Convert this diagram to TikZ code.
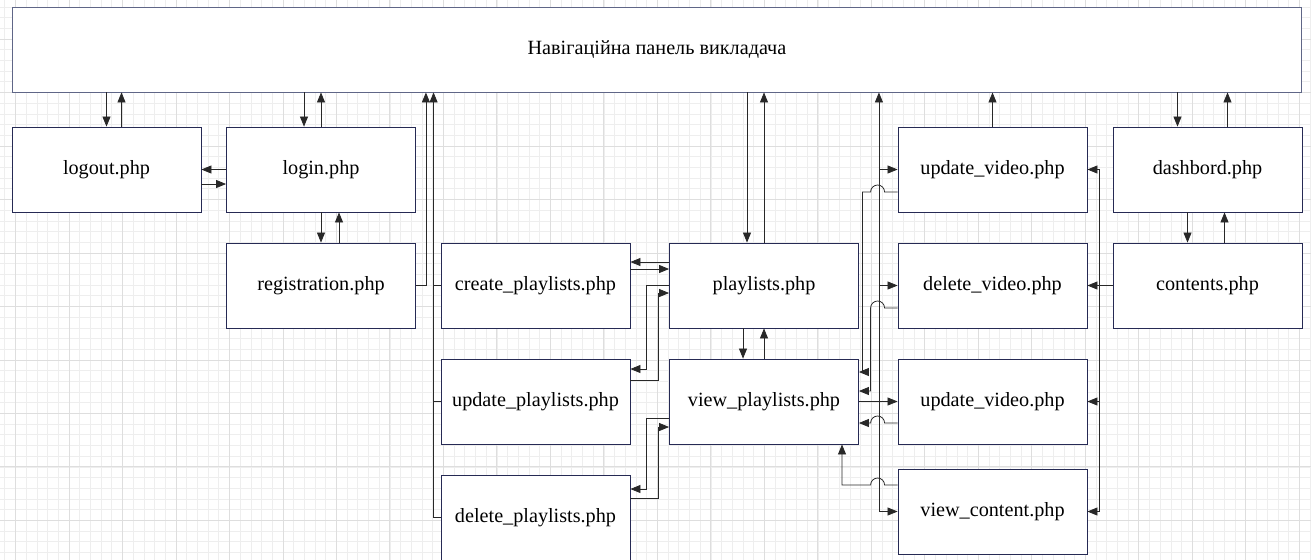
\documentclass[tikz,border=0pt]{standalone}
\usepackage{fontspec}
\setmainfont{Liberation Serif}
\usetikzlibrary{
    arrows.meta,
    positioning,
    calc
}
\definecolor{boxcol}{RGB}{38,42,84}
\definecolor{panelcol}{RGB}{95,102,135}
\definecolor{wirecol}{RGB}{40,40,40}
\definecolor{minorcol}{RGB}{238,238,238}
\definecolor{majorcol}{RGB}{222,222,222}
\tikzset{
    % --- Page box (one php script) ---
    page/.style = {
        rectangle, draw=boxcol, line width=0.5pt, fill=white,
        minimum width=3.78cm, minimum height=1.7cm, inner sep=0pt,
        font=\fontsize{11.5}{14}\selectfont
    },
    % --- Navigation panel across the top ---
    panel box/.style = {
        page, draw=panelcol, minimum width=25.8cm
    },
    % --- Connector with arrow head ---
    flow/.style = {
        -{Triangle[length=0.2cm, width=0.16cm]}, draw=wirecol, line width=0.45pt
    },
    % --- Connector without arrow head (shared trunk) ---
    trunk line/.style = {
        draw=wirecol, line width=0.45pt
    },
    % --- Background grid ---
    grid minor/.style = {
        draw=minorcol, line width=0.4pt
    },
    grid major/.style = {
        draw=majorcol, line width=0.5pt
    }
}

\begin{document}
\begin{tikzpicture}[x=0.02cm, y=-0.02cm]

% ---------------------------------------------------------
% Canvas and grid
% ---------------------------------------------------------
\useasboundingbox (0,0) rectangle (1311,559);
\fill[white] (0,0) rectangle (1311,559);
\begin{scope}
    \clip (0,0) rectangle (1311,559);
    \begin{scope}[shift={(15.5,39)}]
        \draw[grid minor] (-60,-60) grid[step=0.214cm] (1320,580);
        \draw[grid major] (-60,-60) grid[step=1.07cm] (1320,580);
    \end{scope}
\end{scope}

% ---------------------------------------------------------
% Pages
% ---------------------------------------------------------
\node[panel box] (panel) at (657,49.5) {Навігаційна панель викладача};

\node[page] (logout) at (106.5,169.5) {logout.php};
\node[page] (login) at (321,169.5) {login.php};
\node[page] (registration) at (321,285.5) {registration.php};

\node[page] (createpl) at (535.5,285.5) {create\_playlists.php};
\node[page] (updatepl) at (535.5,401.5) {update\_playlists.php};
\node[page] (deletepl) at (535.5,517.5) {delete\_playlists.php};

\node[page] (playlists) at (764,285.5) {playlists.php};
\node[page] (viewpl) at (764,401.5) {view\_playlists.php};

\node[page] (updatevid) at (992.5,169.5) {update\_video.php};
\node[page] (deletevid) at (992.5,285.5) {delete\_video.php};
\node[page] (updatevidb) at (992.5,401.5) {update\_video.php};
\node[page] (viewcontent) at (992.5,511.5) {view\_content.php};

\node[page] (dashbord) at (1207.5,169.5) {dashbord.php};
\node[page] (contents) at (1207.5,285.5) {contents.php};

% ---------------------------------------------------------
% Login group
% ---------------------------------------------------------
\coordinate (logoutUp) at ($(logout.north)+(15,0)$);
\draw[flow] (logout.north |- panel.south) -- (logout.north);
\draw[flow] (logoutUp) -- (logoutUp |- panel.south);

\coordinate (loginDn) at ($(login.north)+(-17,0)$);
\draw[flow] (loginDn |- panel.south) -- (loginDn);
\draw[flow] (login.north) -- (login.north |- panel.south);

\draw[flow] (login.west) -- (logout.east);
\draw[flow] ($(logout.east)+(0,14.5)$) -- ($(login.west)+(0,14.5)$);

\draw[flow] (login.south) -- (registration.north);
\draw[flow] ($(registration.north)+(18,0)$) -- ($(login.south)+(18,0)$);

\coordinate (regUp) at ($(registration.east)+(10,0)$);
\draw[flow] (registration.east) -- (regUp) -- (regUp |- panel.south);

% ---------------------------------------------------------
% Playlists group
% ---------------------------------------------------------
\coordinate (plUp) at ($(createpl.west)+(-7,0)$);
\draw[trunk line] (deletepl.west) -| (plUp);
\draw[trunk line] (updatepl.west) -- (updatepl.west -| plUp);
\draw[flow] (createpl.west) -- (plUp) -- (plUp |- panel.south);

\coordinate (plDn) at ($(playlists.north)+(-17,0)$);
\draw[flow] (plDn |- panel.south) -- (plDn);
\draw[flow] (playlists.north) -- (playlists.north |- panel.south);

\draw[flow] ($(playlists.west)+(0,-23.5)$) -- ($(createpl.east)+(0,-23.5)$);
\draw[flow] ($(createpl.east)+(0,-16.5)$) -- ($(playlists.west)+(0,-16.5)$);

\draw[flow] (playlists.west) -- ++(-23,0) |- ($(updatepl.east)+(0,-32.5)$);
\draw[flow] ($(updatepl.east)+(0,-21.5)$) -- ++(28,0) |- ($(playlists.west)+(0,7.5)$);

\draw[flow] ($(viewpl.west)+(0,16.5)$) -- ++(-23,0) |- ($(deletepl.east)+(0,-28.5)$);
\draw[flow] ($(deletepl.east)+(0,-19.5)$) -- ++(28,0) |- ($(viewpl.west)+(0,25.5)$);

\draw[flow] ($(playlists.south)+(-21,0)$) -- ($(viewpl.north)+(-21,0)$);
\draw[flow] (viewpl.north) -- (playlists.south);

% ---------------------------------------------------------
% Video group
% ---------------------------------------------------------
\coordinate (trunk) at ($(viewpl.east)+(20,0)$);
\draw[flow] (viewpl.east) -- (updatevidb.west);
\draw[flow] (trunk) -- (trunk |- panel.south);
\draw[flow] (trunk) |- (updatevid.west);
\draw[flow] (trunk) |- (deletevid.west);
\draw[flow] (trunk) |- (viewcontent.west);

\draw[flow] (updatevid.north) -- (updatevid.north |- panel.south);

% back to view_playlists, jumping over the trunk
\draw[flow] ($(updatevid.west)+(0,22.5)$) -- ++(-13,0)
    arc[start angle=0, end angle=180, radius=0.14cm] -- ++(-8,0)
    |- ($(viewpl.east)+(0,-29.5)$);
\draw[flow] ($(deletevid.west)+(0,22.5)$) -- ++(-13,0)
    arc[start angle=0, end angle=180, radius=0.14cm]
    |- ($(viewpl.east)+(0,-10.5)$);
\draw[flow] ($(updatevidb.west)+(0,21.5)$) -- ++(-13,0)
    arc[start angle=0, end angle=180, radius=0.14cm]
    -- ($(viewpl.east)+(0,21.5)$);
\draw[flow] ($(viewcontent.west)+(0,-26.5)$) -- ++(-13,0)
    arc[start angle=0, end angle=180, radius=0.14cm]
    -| ($(viewpl.south)+(78,0)$);

% ---------------------------------------------------------
% Dashboard group
% ---------------------------------------------------------
\coordinate (rtrunk) at ($(contents.west)+(-13,0)$);
\draw[flow] (contents.west) -- (deletevid.east);
\draw[flow] (rtrunk) |- (updatevid.east);
\draw[flow] (rtrunk) |- (updatevidb.east);
\draw[flow] (rtrunk) |- (viewcontent.east);

\coordinate (dashDn) at ($(dashbord.north)+(-30,0)$);
\coordinate (dashUp) at ($(dashbord.north)+(20,0)$);
\draw[flow] (dashDn |- panel.south) -- (dashDn);
\draw[flow] (dashUp) -- (dashUp |- panel.south);

\draw[flow] ($(dashbord.south)+(-20,0)$) -- ($(contents.north)+(-20,0)$);
\draw[flow] ($(contents.north)+(17,0)$) -- ($(dashbord.south)+(17,0)$);

\end{tikzpicture}
\end{document}
